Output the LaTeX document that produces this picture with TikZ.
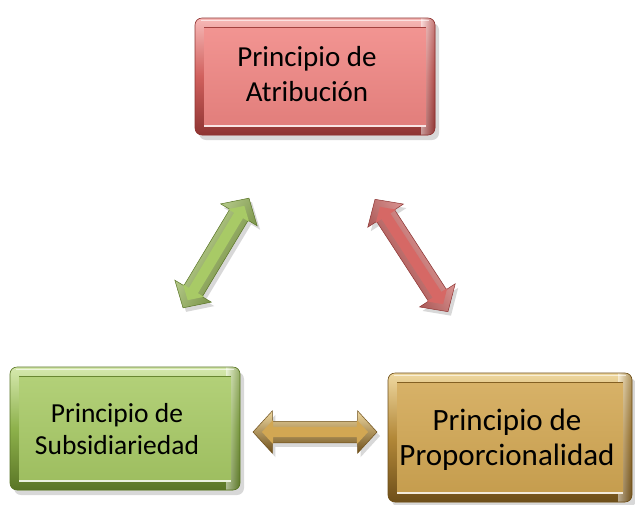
\documentclass[tikz,border=0pt]{standalone}
\usepackage{fontspec}
\setmainfont{Carlito}
\usetikzlibrary{shapes.arrows,shadows}
\definecolor{rDark}{HTML}{8E3432}
\definecolor{rMid}{HTML}{D0605D}
\definecolor{rFace}{HTML}{F08683}
\definecolor{rLight}{HTML}{F7B9B7}
\definecolor{gDark}{HTML}{5A7526}
\definecolor{gMid}{HTML}{8DB14B}
\definecolor{gFace}{HTML}{A8CA66}
\definecolor{gLight}{HTML}{D6E9AE}
\definecolor{oDark}{HTML}{6E4F1A}
\definecolor{oMid}{HTML}{B38838}
\definecolor{oFace}{HTML}{D2A753}
\definecolor{oLight}{HTML}{EFD8A0}
\tikzset{
  bevelbox/.style n args={4}{% dark, mid, face, light
    rectangle, rounded corners=7pt, draw=#1, line width=0.6pt, fill=#2,
    drop shadow={shadow xshift=4pt, shadow yshift=-5pt, opacity=.3},
    path picture={
      \path (path picture bounding box.south west) coordinate (ppsw)
            (path picture bounding box.north east) coordinate (ppne);
      \path ([shift={(9pt,9pt)}]ppsw) coordinate (pisw)
            ([shift={(-9pt,-9pt)}]ppne) coordinate (pine);
      \shade[sharp corners, top color=#4, bottom color=#1, middle color=#2] (ppsw) rectangle (ppne);
      \shade[sharp corners, left color=#2!0, right color=#1, opacity=.5] ([xshift=-14pt]ppne |- ppsw) rectangle (ppne);
      \shade[sharp corners, top color=#3!88!white, bottom color=#3!94!black] (pisw) rectangle (pine);
      \draw[sharp corners, #1!70!#2, line width=1pt] (pisw |- pine) -- (pine);
      \draw[sharp corners, white, opacity=.8, line width=1.2pt] (pisw) -- (pine |- pisw);
      \draw[sharp corners, white, opacity=.6, line width=1pt] ([shift={(6pt,-2.5pt)}]ppsw |- ppne) -- ([shift={(-6pt,-2.5pt)}]ppne);
    }
  },
  boxtext/.style 2 args={font=\fontsize{#1}{#2}\selectfont, align=center, inner sep=0pt, text=black},
  blockarrow/.style n args={3}{% dark, mid, light
    double arrow, double arrow head extend=10.5pt, double arrow tip angle=95,
    inner xsep=0pt, inner ysep=10.5pt, draw=#1, line width=0.5pt,
    top color=#3, middle color=#2, bottom color=#1,
    drop shadow={shadow xshift=3pt, shadow yshift=-4pt, opacity=.3}
  },
  innerarrow/.style={
    double arrow, double arrow head extend=7pt, double arrow tip angle=95,
    inner xsep=0pt, inner ysep=5pt, fill=#1
  }
}
\begin{document}
\begin{tikzpicture}[x=1pt, y=-1pt]
  \useasboundingbox (0,0) rectangle (635,504);
  \fill[white] (0,0) rectangle (635,504);

  % boxes
  \node[bevelbox={rDark}{rMid}{rFace}{rLight}, minimum width=240pt, minimum height=117pt] (atr) at (315,76.5) {};
  \node[boxtext={29}{35}] (atrt) at (307,74.5) {Principio de\\Atribución};

  \node[bevelbox={gDark}{gMid}{gFace}{gLight}, minimum width=230pt, minimum height=123pt] (sub) at (125,428.5) {};
  \node[boxtext={27.5}{32}] (subt) at (117,429) {Principio de\\Subsidiariedad};

  \node[bevelbox={oDark}{oMid}{oFace}{oLight}, minimum width=244pt, minimum height=129pt] (pro) at (510,437.5) {};
  \node[boxtext={31}{35}] (prot) at (507,439.5) {Principio de\\Proporcionalidad};

  % arrows
  \node[blockarrow={gDark}{gMid}{gLight}, shading angle=59, minimum height=128pt, rotate=59] (ga) at (216,253) {};
  \node[innerarrow=gFace, minimum height=110pt, rotate=59] (gai) at (ga.center) {};

  \node[blockarrow={rDark}{rMid}{rLight}, shading angle=-57, minimum height=134pt, rotate=-57] (ra) at (411.5,255.5) {};
  \node[innerarrow=rMid!80!rFace, minimum height=116pt, rotate=-57] (rai) at (ra.center) {};

  \node[blockarrow={oDark}{oMid}{oLight}, minimum height=124pt] (oa) at (315,432) {};
  \node[innerarrow=oFace, minimum height=106pt] (oai) at (oa.center) {};
\end{tikzpicture}
\end{document}
